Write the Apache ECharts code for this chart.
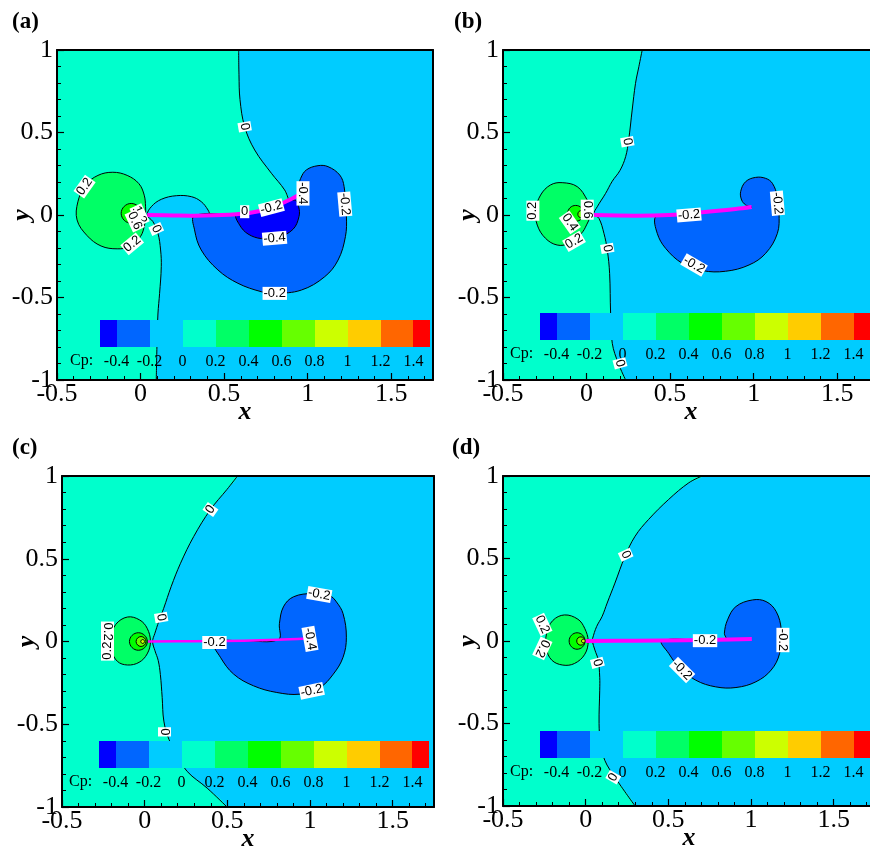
<!DOCTYPE html>
<html><head><meta charset="utf-8">
<script src="https://cdn.jsdelivr.net/npm/echarts@6/dist/echarts.min.js"></script>
<style>html,body{margin:0;padding:0;background:#fff}#c{width:870px;height:848px}</style>
</head><body><div id="c"></div>
<script>
// ===== data =====
const panelNames = ['(a)', '(b)', '(c)', '(d)'];
const xRange = [-0.5, 1.75];
const yRange = [-1, 1];
const cpLevels = [-0.5, -0.4, -0.2, 0, 0.2, 0.4, 0.6, 0.8, 1.0, 1.2, 1.4, 1.5];
const cpColors = ['#0000FF', '#0066FF', '#00CCFF', '#00FFCC', '#00FF66', '#00FF00', '#66FF00', '#CCFF00', '#FFCC00', '#FF6600', '#FF0000'];
const cpTitle = 'Cp:';

// ---- panel (a) ----
const zeroUpperA = [[0.587,1.0],[0.589,0.85],[0.595,0.70],[0.623,0.535],[0.683,0.394],[0.783,0.253],[0.862,0.152],[0.885,0.095]];
const plateUnderA = [[0.823,0.061],[0.723,0.026],[0.573,0.004]];
const zeroLowerA = [[0.415,0.0],[0.404,0.03],[0.363,0.081],[0.304,0.111],[0.214,0.117],[0.124,0.095],[0.064,0.05],[0.04,0.0],[0.074,-0.04],[0.104,-0.111],[0.12,-0.212],[0.124,-0.313],[0.114,-0.475],[0.104,-0.6],[0.098,-0.8],[0.094,-1.0]];
const outerA = [[0.094,-1.2],[-0.8,-1.2],[-0.8,1.2],[0.587,1.2]];
const greenA = [[-0.166,0.259],[-0.08,0.24],[-0.01,0.19],[0.022,0.12],[0.03,0.05],[0.03,0.0],[0.024,-0.06],[0.0,-0.13],[-0.06,-0.19],[-0.14,-0.205],[-0.236,-0.188],[-0.32,-0.125],[-0.38,-0.03],[-0.375,0.08],[-0.33,0.18],[-0.255,0.24]];
const inner04A = [[-0.056,0.07],[-0.014,0.052],[0.004,0.01],[-0.014,-0.032],[-0.056,-0.05],[-0.098,-0.032],[-0.116,0.01],[-0.098,0.052]];
const inner06A = [[-0.02,0.03],[-0.004,0.022],[0.002,0.005],[-0.004,-0.012],[-0.02,-0.02],[-0.036,-0.012],[-0.042,0.005],[-0.036,0.022]];
const blueA = [[0.323,-0.004],[0.323,-0.09],[0.363,-0.212],[0.463,-0.333],[0.583,-0.414],[0.723,-0.465],[0.803,-0.475],[0.962,-0.455],[1.102,-0.374],[1.182,-0.273],[1.226,-0.131],[1.232,-0.01],[1.218,0.172],[1.192,0.242],[1.122,0.293],[1.062,0.299],[0.992,0.273],[0.958,0.222],[0.946,0.172],[0.946,0.121],[0.902,0.097],[0.823,0.061],[0.723,0.026],[0.573,0.004]];
const darkA = [[0.573,0.004],[0.593,-0.061],[0.643,-0.115],[0.723,-0.143],[0.823,-0.135],[0.912,-0.087],[0.948,-0.01],[0.946,0.05],[0.922,0.091],[0.823,0.061],[0.723,0.026]];
const plateA = [[0.04,0],[0.2,-0.003],[0.323,-0.004],[0.573,0.004],[0.723,0.026],[0.823,0.061],[0.902,0.097],[0.946,0.121]];
const labelsA = [[0.623,0.535,'0',-80],[-0.335,0.172,'0.2',55],[-0.05,-0.175,'0.2',40],[-0.006,0.0,'1.2',-65],[-0.035,-0.035,'0.6',-65],[0.094,-0.085,'0',-65],[0.623,0.02,'0',0],[0.783,0.045,'-0.2',15],[0.972,0.131,'-0.4',-90],[0.802,-0.141,'-0.4',5],[1.222,0.066,'-0.2',-85],[0.803,-0.475,'-0.2',0]];

// ---- panel (b) ----
const zeroB = [[0.333,1.0],[0.313,0.899],[0.293,0.798],[0.273,0.636],[0.252,0.455],[0.234,0.354],[0.2,0.27],[0.154,0.205],[0.114,0.131],[0.064,0.05],[0.044,0.005],[0.074,-0.02],[0.104,-0.111],[0.124,-0.212],[0.138,-0.354],[0.144,-0.596],[0.154,-0.778],[0.19,-0.899],[0.234,-1.0]];
const outerB = [[0.26,-1.2],[-0.8,-1.2],[-0.8,1.2],[0.333,1.2]];
const greenB = [[-0.146,0.196],[-0.056,0.172],[0.004,0.091],[0.02,0.04],[0.02,-0.01],[0.0,-0.06],[-0.03,-0.11],[-0.106,-0.172],[-0.176,-0.182],[-0.246,-0.141],[-0.295,-0.061],[-0.305,0.03],[-0.275,0.121],[-0.216,0.182]];
const inner04B = [[-0.065,0.058],[-0.031,0.044],[-0.017,0.01],[-0.031,-0.024],[-0.065,-0.038],[-0.099,-0.024],[-0.113,0.01],[-0.099,0.044]];
const inner06B = [[-0.03,0.027],[-0.014,0.021],[-0.008,0.005],[-0.014,-0.011],[-0.03,-0.017],[-0.046,-0.011],[-0.052,0.005],[-0.046,0.021]];
const blueB = [[0.413,-0.01],[0.423,-0.111],[0.473,-0.202],[0.573,-0.293],[0.693,-0.337],[0.832,-0.341],[0.972,-0.303],[1.072,-0.232],[1.142,-0.111],[1.152,0.01],[1.142,0.111],[1.112,0.192],[1.072,0.222],[1.012,0.228],[0.952,0.202],[0.922,0.141],[0.928,0.091],[0.952,0.061],[0.988,0.046],[0.892,0.036],[0.693,0.016],[0.493,0.0]];
const plateB = [[0.044,0],[0.293,-0.004],[0.493,0.0],[0.693,0.016],[0.892,0.036],[0.988,0.048]];
const labelsB = [[0.244,0.444,'0',-80],[0.124,-0.202,'0',-80],[0.2,-0.899,'0',-75],[0.613,0.0,'-0.2',5],[1.142,0.071,'-0.2',-85],[0.643,-0.303,'-0.2',-30],[-0.321,0.026,'0.2',90],[-0.075,-0.16,'0.2',30],[-0.1,-0.045,'0.4',-55],[0.004,0.032,'0.6',-90]];

// ---- panel (c) ----
const zeroC = [[0.562,1.0],[0.498,0.919],[0.398,0.797],[0.297,0.635],[0.217,0.473],[0.16,0.331],[0.115,0.2],[0.085,0.12],[0.062,0.05],[0.048,0.0],[0.062,-0.055],[0.082,-0.115],[0.095,-0.2],[0.106,-0.339],[0.116,-0.481],[0.147,-0.592],[0.2,-0.69],[0.257,-0.785],[0.378,-0.886],[0.498,-1.0]];
const outerC = [[0.56,-1.2],[-0.8,-1.2],[-0.8,1.2],[0.562,1.2]];
const greenC = [[-0.104,0.148],[-0.03,0.13],[0.015,0.08],[0.035,0.0],[0.015,-0.075],[-0.034,-0.126],[-0.104,-0.142],[-0.165,-0.12],[-0.199,-0.055],[-0.201,0.026],[-0.175,0.103]];
const inner04C = [[-0.038,0.053],[0.0,0.037],[0.016,0.0],[0.0,-0.037],[-0.038,-0.053],[-0.076,-0.037],[-0.092,0.0],[-0.076,0.037]];
const inner06C = [[-0.022,0.03],[-0.001,0.021],[0.008,0.0],[-0.001,-0.021],[-0.022,-0.03],[-0.043,-0.021],[-0.052,0.0],[-0.043,0.021]];
const inner08C = [[-0.012,0.012],[-0.004,0.008],[0.0,0.0],[-0.004,-0.008],[-0.012,-0.012],[-0.02,-0.008],[-0.024,0.0],[-0.02,0.008]];
const blueC = [[0.418,-0.004],[0.458,-0.095],[0.538,-0.197],[0.659,-0.268],[0.799,-0.308],[0.94,-0.318],[1.06,-0.278],[1.141,-0.197],[1.2,-0.095],[1.22,0.026],[1.2,0.168],[1.16,0.239],[1.12,0.276],[1.02,0.29],[0.9,0.27],[0.839,0.209],[0.815,0.108],[0.809,0.012],[0.6,0.004]];
const plateC = [[0.02,0.0],[0.3,0.002],[0.6,0.005],[0.8,0.01],[0.98,0.018]];
const labelsC = [[0.398,0.797,'0',55],[0.1,0.145,'0',-80],[0.12,-0.546,'0',-90],[0.422,-0.006,'-0.2',0],[1.056,0.284,'-0.2',-10],[1.0,0.016,'-0.4',-80],[1.01,-0.298,'-0.2',12],[-0.225,0.06,'0.2',-90],[-0.225,-0.055,'0.2',90]];

// ---- panel (d) ----
const zeroD = [[0.705,1.0],[0.624,0.959],[0.502,0.858],[0.38,0.736],[0.299,0.635],[0.238,0.513],[0.177,0.351],[0.13,0.23],[0.1,0.15],[0.066,0.087],[0.042,0.016],[0.04,0.0],[0.056,-0.055],[0.076,-0.115],[0.085,-0.22],[0.085,-0.298],[0.081,-0.501],[0.09,-0.62],[0.116,-0.724],[0.177,-0.826],[0.299,-1.0]];
const outerD = [[0.36,-1.2],[-0.8,-1.2],[-0.8,1.2],[0.705,1.2]];
const greenD = [[-0.128,0.158],[-0.047,0.132],[-0.006,0.077],[0.015,0.0],[-0.005,-0.08],[-0.067,-0.136],[-0.138,-0.146],[-0.205,-0.116],[-0.238,-0.045],[-0.236,0.047],[-0.199,0.124]];
const inner04D = [[-0.052,0.05],[-0.018,0.035],[-0.004,0.0],[-0.018,-0.035],[-0.052,-0.05],[-0.086,-0.035],[-0.1,0.0],[-0.086,0.035]];
const inner06D = [[-0.029,0.025],[-0.011,0.018],[-0.004,0.0],[-0.011,-0.018],[-0.029,-0.025],[-0.047,-0.018],[-0.054,0.0],[-0.047,0.018]];
const inner08D = [[-0.014,0.011],[-0.006,0.008],[-0.003,0.0],[-0.006,-0.008],[-0.014,-0.011],[-0.022,-0.008],[-0.025,0.0],[-0.022,0.008]];
const blueD = [[0.461,0.0],[0.502,-0.075],[0.563,-0.156],[0.665,-0.237],[0.787,-0.278],[0.909,-0.282],[1.03,-0.247],[1.122,-0.176],[1.173,-0.075],[1.183,0.067],[1.152,0.179],[1.091,0.239],[1.01,0.249],[0.909,0.209],[0.858,0.128],[0.839,0.047],[0.848,0.01],[0.7,0.007]];
const plateD = [[0.0,0.0],[0.3,0.002],[0.6,0.005],[0.8,0.008],[1.005,0.012]];
const labelsD = [[0.242,0.523,'0',-65],[0.071,-0.132,'0',-75],[0.167,-0.826,'0',60],[0.722,0.002,'-0.2',0],[1.193,0.006,'-0.2',-90],[0.583,-0.176,'-0.2',-45],[-0.262,0.1,'0.2',-65],[-0.262,-0.045,'0.2',-115]];

// ===== layout & style =====
const SERIF = '"Liberation Serif","Times New Roman",serif';
const SANS = '"Liberation Sans",Arial,sans-serif';
const SM = 0.375;
const GRIDS = [
  {left:57, top:50, width:376, height:330},
  {left:503, top:50, width:376, height:330},
  {left:62, top:476, width:372, height:331},
  {left:503, top:476, width:372, height:330}
];
const BARS = [{left:100, top:320}, {left:540, top:313}, {left:99, top:741}, {left:540, top:731}];
const TITLES = [[12,11],[454,11],[12,437],[452,437]];
const PLATE_W = [4, 4, 2.5, 4];

const panels = [
  {region: [].concat(zeroUpperA, plateUnderA, zeroLowerA, outerA), lines: [zeroUpperA, zeroLowerA], green: greenA,
   inner: [[inner04A, cpColors[5]], [inner06A, cpColors[6]]], blue: blueA, dark: darkA, plate: plateA, labels: labelsA},
  {region: [].concat(zeroB, outerB), lines: [zeroB], green: greenB,
   inner: [[inner04B, cpColors[5]], [inner06B, cpColors[6]]], blue: blueB, dark: null, plate: plateB, labels: labelsB},
  {region: [].concat(zeroC, outerC), lines: [zeroC], green: greenC,
   inner: [[inner04C, cpColors[5]], [inner06C, cpColors[6]], [inner08C, cpColors[7]]], blue: blueC, dark: null, plate: plateC, labels: labelsC},
  {region: [].concat(zeroD, outerD), lines: [zeroD], green: greenD,
   inner: [[inner04D, cpColors[5]], [inner06D, cpColors[6]], [inner08D, cpColors[7]]], blue: blueD, dark: null, plate: plateD, labels: labelsD}
];

function polySeries(pi, pts, fill, stroke, z) {
  return {type:'custom', xAxisIndex:pi*3, yAxisIndex:pi*3, clip:true, silent:true, z:z, data:[[0,0]],
    renderItem:(params, api) => ({type:'polygon', shape:{points: pts.map(p => api.coord(p)), smooth:SM},
      style:{fill: fill, stroke: stroke || 'none', lineWidth: 1}})};
}
function lineSeries(pi, pts, color, width, z) {
  return {type:'custom', xAxisIndex:pi*3, yAxisIndex:pi*3, clip:true, silent:true, z:z, data:[[0,0]],
    renderItem:(params, api) => ({type:'polyline', shape:{points: pts.map(p => api.coord(p)), smooth:SM},
      style:{fill:'none', stroke: color, lineWidth: width}})};
}
function labelSeries(pi, labels) {
  return {type:'custom', xAxisIndex:pi*3, yAxisIndex:pi*3, clip:false, silent:true, z:9,
    data: labels.map(l => [l[0], l[1]]),
    renderItem:(params, api) => {
      const l = labels[params.dataIndex];
      const pt = api.coord([l[0], l[1]]);
      return {type:'text', x:pt[0], y:pt[1], rotation: l[3] * Math.PI / 180,
        style:{text:l[2], fill:'#000', fontSize:13, fontFamily:SANS, align:'center', verticalAlign:'middle',
          backgroundColor:'#fff', padding:[0,1,0,1]}};
    }};
}
function colorbarSeries(i) {
  return {type:'custom', xAxisIndex:12+i, yAxisIndex:12+i, clip:false, silent:true, z:7,
    data: cpColors.map((c, k) => [k, 0]),
    renderItem:(params, api) => {
      const k = params.dataIndex;
      const p0 = api.coord([cpLevels[k], 1]);
      const p1 = api.coord([cpLevels[k + 1], 0]);
      const x0 = Math.round(p0[0]), x1 = Math.round(p1[0]);
      return {type:'rect', shape:{x:x0, y:p0[1], width:x1 - x0, height:p1[1] - p0[1]}, style:{fill:cpColors[k]}};
    }};
}

const option = {animation:false, backgroundColor:'#fff', title:[], grid:[], xAxis:[], yAxis:[], series:[], graphic:[]};
const nameStyle = {fontFamily:SERIF, fontSize:26, fontStyle:'italic', fontWeight:'bold', color:'#000'};
const labStyle = {fontFamily:SERIF, fontSize:26, color:'#000'};

panels.forEach((P, i) => {
  option.title.push({text:panelNames[i], left:TITLES[i][0], top:TITLES[i][1], padding:0,
    textStyle:{fontFamily:SERIF, fontSize:23, fontWeight:'bold', color:'#000'}});
  option.grid.push(Object.assign({show:true, backgroundColor:cpColors[2], borderWidth:0, outerBoundsMode:'none', containLabel:false}, GRIDS[i]));
  // main x
  option.xAxis.push({type:'value', gridIndex:i, min:xRange[0], max:xRange[1], interval:0.5, position:'bottom', z:10,
    axisLine:{onZero:false, lineStyle:{color:'#000', width:2}},
    axisTick:{inside:true, length:7, lineStyle:{color:'#000', width:1.2}},
    axisLabel:Object.assign({margin:1, showMinLabel:true, showMaxLabel:false}, labStyle),
    splitLine:{show:false}, name:'x', nameLocation:'middle', nameGap:19, nameMoveOverlap:false, nameTextStyle:nameStyle});
  option.xAxis.push({type:'value', gridIndex:i, min:xRange[0], max:xRange[1], interval:0.1, position:'bottom', z:10,
    axisLine:{show:false, onZero:false}, axisTick:{inside:true, length:4, lineStyle:{color:'#000', width:1}},
    axisLabel:{show:false}, splitLine:{show:false}});
  option.xAxis.push({type:'value', gridIndex:i, min:xRange[0], max:xRange[1], position:'top', z:10,
    axisLine:{onZero:false, lineStyle:{color:'#000', width:2}}, axisTick:{show:false}, axisLabel:{show:false}, splitLine:{show:false}});
  // main y
  option.yAxis.push({type:'value', gridIndex:i, min:yRange[0], max:yRange[1], interval:0.5, position:'left', z:10,
    axisLine:{onZero:false, lineStyle:{color:'#000', width:2}},
    axisTick:{inside:true, length:7, lineStyle:{color:'#000', width:1.2}},
    axisLabel:Object.assign({margin:4, showMinLabel:true, showMaxLabel:true}, labStyle),
    splitLine:{show:false}, name:'y', nameLocation:'middle', nameGap:22, nameRotate:90, nameMoveOverlap:false, nameTextStyle:nameStyle});
  option.yAxis.push({type:'value', gridIndex:i, min:yRange[0], max:yRange[1], interval:0.1, position:'left', z:10,
    axisLine:{show:false, onZero:false}, axisTick:{inside:true, length:4, lineStyle:{color:'#000', width:1}},
    axisLabel:{show:false}, splitLine:{show:false}});
  option.yAxis.push({type:'value', gridIndex:i, min:yRange[0], max:yRange[1], position:'right', z:10,
    axisLine:{onZero:false, lineStyle:{color:'#000', width:2}}, axisTick:{show:false}, axisLabel:{show:false}, splitLine:{show:false}});

  // contour layers
  option.series.push(polySeries(i, P.region, cpColors[3], null, 2));
  P.lines.forEach(l => option.series.push(lineSeries(i, l, '#000', 1, 5)));
  option.series.push(polySeries(i, P.green, cpColors[4], '#000', 3));
  P.inner.forEach((c, k) => option.series.push(polySeries(i, c[0], c[1], '#000', 4 + k * 0.1)));
  option.series.push(polySeries(i, P.blue, cpColors[1], '#000', 3));
  if (P.dark) option.series.push(polySeries(i, P.dark, cpColors[0], '#000', 4));
  option.series.push(lineSeries(i, P.plate, '#FF00FF', PLATE_W[i], 6));
  option.series.push(labelSeries(i, P.labels));
});

// colorbars
BARS.forEach((B, i) => {
  const unit = 330 / (cpLevels[cpLevels.length - 1] - cpLevels[0]);
  const gl = B.left + unit * (cpLevels[1] - cpLevels[0]);
  option.grid.push({show:false, left:gl, top:B.top, width:unit * (cpLevels[10] - cpLevels[1]), height:27, outerBoundsMode:'none', containLabel:false});
});
BARS.forEach((B, i) => {
  option.xAxis.push({type:'value', gridIndex:4 + i, min:cpLevels[1], max:cpLevels[10], interval:0.2, z:8,
    axisLine:{show:false, onZero:false}, axisTick:{show:false}, splitLine:{show:false},
    axisLabel:{fontFamily:SERIF, fontSize:16, color:'#000', margin:7, showMinLabel:true, showMaxLabel:true}});
  option.yAxis.push({type:'value', gridIndex:4 + i, min:0, max:1, show:false, axisLine:{onZero:false}, splitLine:{show:false}});
  option.series.push(colorbarSeries(i));
  option.graphic.push({type:'text', left:B.left - 30, top:B.top + 27 + 6, z:100, silent:true,
    style:{text:cpTitle, fill:'#000', fontFamily:SERIF, fontSize:16}});
});

const chart = echarts.init(document.getElementById('c'), null, {renderer:'canvas'});
chart.setOption(option);
</script></body></html>
